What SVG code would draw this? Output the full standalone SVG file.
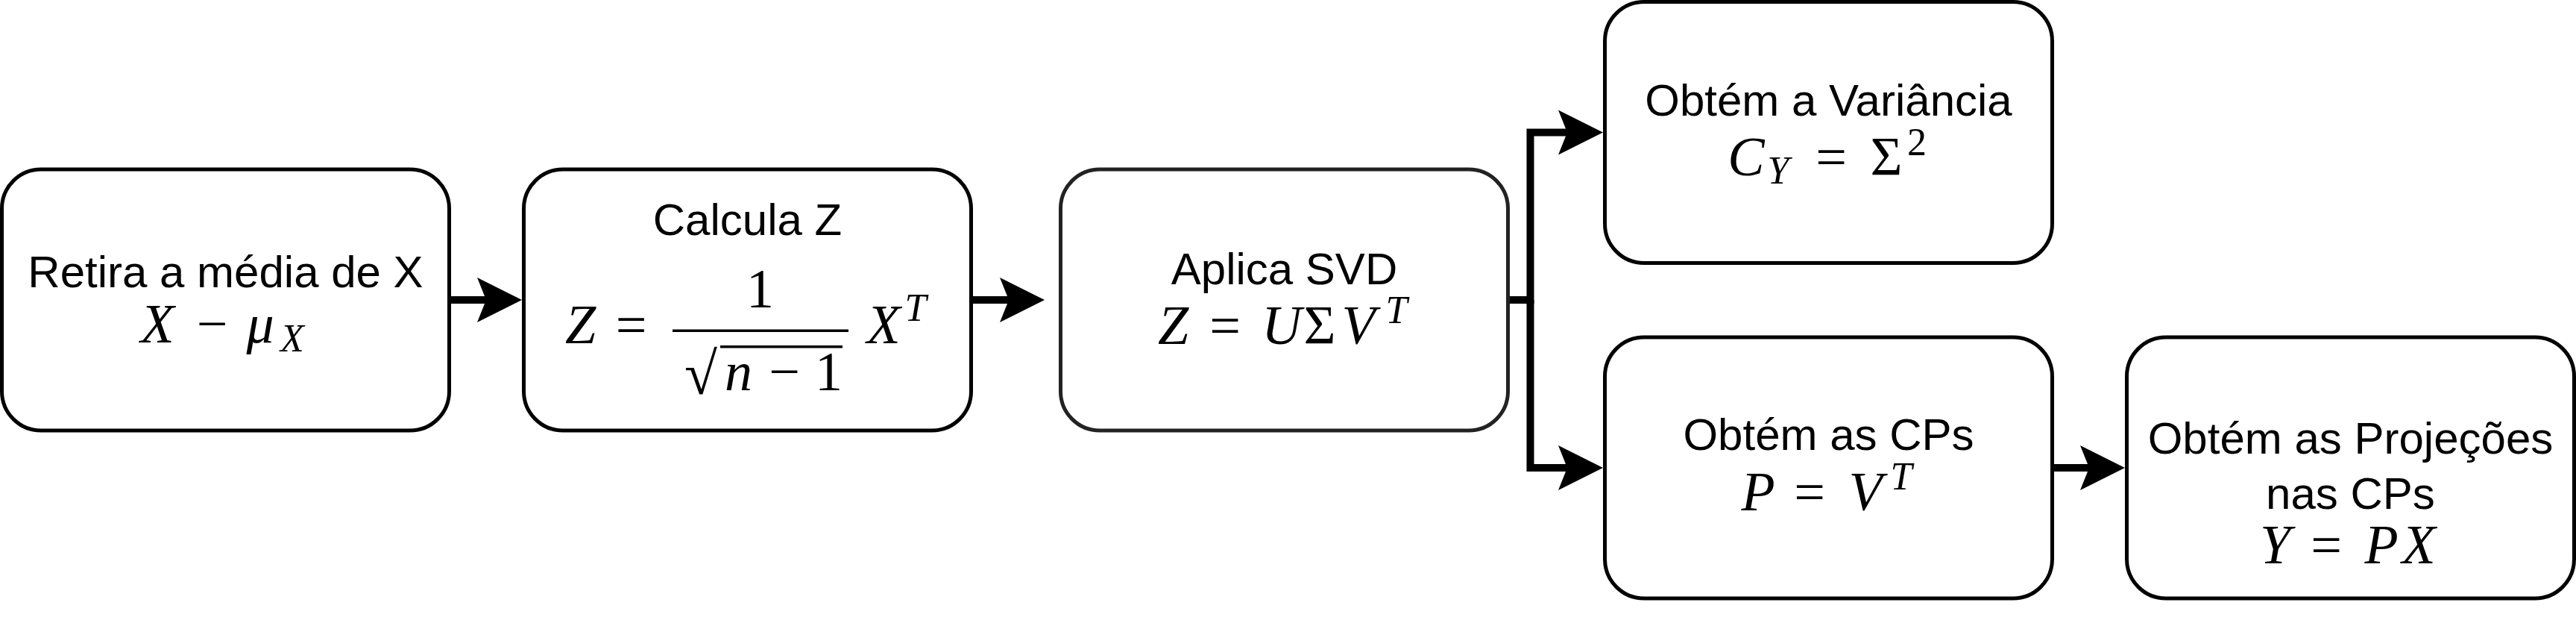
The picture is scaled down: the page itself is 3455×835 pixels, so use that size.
<svg xmlns="http://www.w3.org/2000/svg" width="3455" height="835" viewBox="0 0 3455 835">
<style>
.box{fill:#fff;stroke:#000;stroke-width:5}
.box3{stroke:#222}
.edge{fill:none;stroke:#000;stroke-width:10;stroke-linejoin:miter;stroke-linecap:butt}
.t{font-family:"Liberation Sans",Arial,Helvetica,sans-serif;font-size:60px;text-anchor:middle;fill:#000}
.m{font-family:"Liberation Serif","Times New Roman",serif;font-style:italic;font-size:74px;text-anchor:middle;fill:#000}
.u{font-style:normal}
.s{font-size:52px}
</style>
<defs>
<marker id="arr" markerUnits="userSpaceOnUse" markerWidth="62" markerHeight="62" refX="12" refY="30" orient="auto" viewBox="0 0 62 62" overflow="visible">
<path d="M0,0 L60,30 L0,60 L12,30 Z" fill="#000"/>
</marker>
</defs>
<rect width="3455" height="835" fill="#fff"/>
<g id="connectors">
<path class="edge" d="M602.5,402 H652" marker-end="url(#arr)"/>
<path class="edge" d="M1302.5,402 H1353" marker-end="url(#arr)"/>
<path class="edge" d="M2022.5,402 H2052.5 V177.5 H2102" marker-end="url(#arr)"/>
<path class="edge" d="M2052.5,402 V627 H2102" marker-end="url(#arr)"/>
<path class="edge" d="M2752.5,627 H2802" marker-end="url(#arr)"/>
</g>
<g id="node-media">
<rect class="box" x="2.5" y="227" width="600" height="350" rx="52.5"/>
<text class="t" x="302.5" y="385">Retira a média de X</text>
<text class="m"><tspan x="211" y="459">X</tspan><tspan class="u" x="284.5" y="459">−</tspan><tspan x="349" y="459">μ</tspan><tspan class="s" x="392" y="471">X</tspan></text>
</g>
<g id="node-z">
<rect class="box" x="702.5" y="227" width="600" height="350" rx="52.5"/>
<text class="t" x="1002.5" y="315">Calcula Z</text>
<text class="m"><tspan x="778.5" y="460">Z</tspan><tspan class="u" x="846.5" y="460">=</tspan></text>
<rect x="902" y="441.5" width="236" height="3.5" fill="#000"/>
<text class="m u" x="1019.5" y="412">1</text>
<text class="m u" x="940" y="528" style="font-size:80px">√</text>
<rect x="966" y="463" width="164" height="3.5" fill="#000"/>
<text class="m"><tspan x="990.5" y="523">n</tspan><tspan class="u" x="1052" y="523">−</tspan><tspan class="u" x="1111.5" y="523">1</tspan></text>
<text class="m"><tspan x="1185" y="460">X</tspan><tspan class="s" x="1228" y="430">T</tspan></text>
</g>
<g id="node-svd">
<rect class="box box3" x="1422.5" y="227" width="600" height="350" rx="52.5"/>
<text class="t" x="1722.5" y="381">Aplica SVD</text>
<text class="m"><tspan x="1573.5" y="461">Z</tspan><tspan class="u" x="1643" y="461">=</tspan><tspan x="1719" y="461">U</tspan><tspan class="u" x="1770" y="461">Σ</tspan><tspan x="1822" y="461">V</tspan><tspan class="s" x="1873" y="433">T</tspan></text>
</g>
<g id="node-variancia">
<rect class="box" x="2152.5" y="2.5" width="600" height="350" rx="52.5"/>
<text class="t" x="2452.5" y="155">Obtém a Variância</text>
<text class="m"><tspan x="2342" y="235">C</tspan><tspan class="s" x="2385" y="246">Y</tspan><tspan class="u" x="2456" y="235">=</tspan><tspan class="u" x="2530" y="235">Σ</tspan><tspan class="u s" x="2571" y="208">2</tspan></text>
</g>
<g id="node-cps">
<rect class="box" x="2152.5" y="452" width="600" height="350" rx="52.5"/>
<text class="t" x="2452.5" y="603">Obtém as CPs</text>
<text class="m"><tspan x="2358" y="684">P</tspan><tspan class="u" x="2427" y="684">=</tspan><tspan x="2502" y="684">V</tspan><tspan class="s" x="2550" y="656">T</tspan></text>
</g>
<g id="node-projecoes">
<rect class="box" x="2852.5" y="452" width="600" height="350" rx="52.5"/>
<text class="t" x="3152.5" y="608">Obtém as Projeções</text>
<text class="t" x="3152.5" y="682">nas CPs</text>
<text class="m"><tspan x="3051.5" y="755">Y</tspan><tspan class="u" x="3120" y="755">=</tspan><tspan x="3194" y="755">P</tspan><tspan x="3244" y="755">X</tspan></text>
</g>
</svg>
